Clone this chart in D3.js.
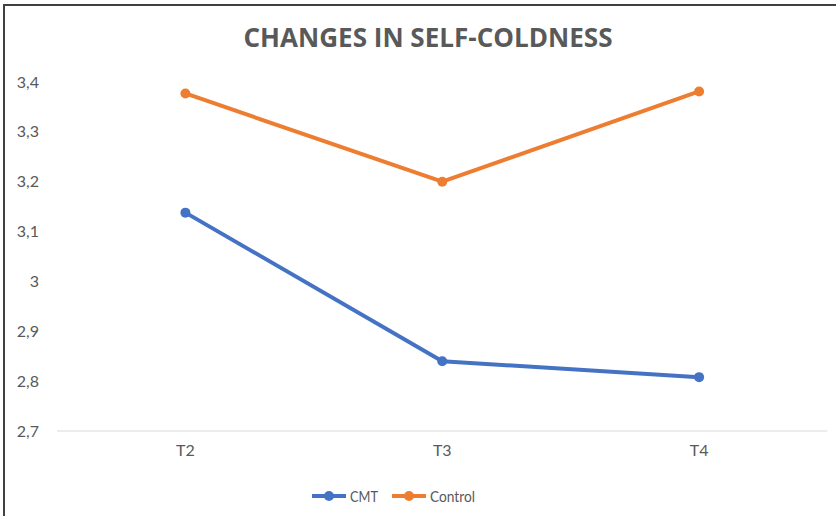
<!DOCTYPE html>
<html><head><meta charset="utf-8">
<script src="https://cdn.jsdelivr.net/npm/d3@7"></script>
<style>body{margin:0;background:#fff}svg{display:block}</style>
</head><body>
<script>
const categories = ["T2", "T3", "T4"];
const cmtValues = [3.138, 2.840, 2.808];
const controlValues = [3.377, 3.200, 3.381];
const yTicks = [2.7, 2.8, 2.9, 3.0, 3.1, 3.2, 3.3, 3.4];
const seriesNames = ["CMT", "Control"];
const seriesColors = ["#4472C4", "#ED7D31"];

const W = 836, H = 516;
const svg = d3.select("body").append("svg").attr("width", W).attr("height", H);
const font = "Lato,'Open Sans',Arial,sans-serif";
const titleFont = "'Open Sans',Lato,Arial,sans-serif";

// chart area frame (partially visible)
svg.append("rect").attr("x", 4).attr("y", 5).attr("width", W + 20).attr("height", H + 20)
  .attr("fill", "#fff").attr("stroke", "#404040").attr("stroke-width", 2);

const x = d3.scaleBand().domain(categories).range([57, 827.5]);
const y = d3.scaleLinear().domain([2.7, 3.4]).range([431, 82]);

// baseline
svg.append("line").attr("x1", 57).attr("x2", 827.5).attr("y1", y(2.7)).attr("y2", y(2.7))
  .attr("stroke", "#d9d9d9").attr("stroke-width", 1);

// y axis
const fmt = v => (Math.round(v * 10) / 10).toString().replace(".", ",");
const yAxis = d3.axisLeft(y).tickValues(yTicks).tickFormat(fmt).tickSize(0).tickPadding(0);
const yg = svg.append("g").attr("transform", "translate(39,0)").call(yAxis);
yg.select(".domain").remove();
yg.selectAll("text").attr("fill", "#595959").style("font-family", font).style("font-size", "16px");

// x axis
const xAxis = d3.axisBottom(x).tickSize(0).tickPadding(0);
const xg = svg.append("g").attr("transform", "translate(0,445)").call(xAxis);
xg.select(".domain").remove();
xg.selectAll("text").attr("fill", "#595959").style("font-family", font).style("font-size", "16px");

// title
svg.append("text").attr("x", 428).attr("y", 47).attr("text-anchor", "middle")
  .attr("fill", "#595959").style("font-family", titleFont).style("font-weight", "bold")
  .style("font-size", "27px").attr("textLength", 369).attr("lengthAdjust", "spacingAndGlyphs")
  .text("CHANGES IN SELF-COLDNESS");

// series
const series = [cmtValues, controlValues];
const line = d3.line().x((d, i) => x(categories[i]) + x.bandwidth() / 2).y(d => y(d));
series.forEach((vals, si) => {
  svg.append("path").datum(vals).attr("d", line).attr("fill", "none")
    .attr("stroke", seriesColors[si]).attr("stroke-width", 4).attr("stroke-linejoin", "round");
  svg.selectAll(null).data(vals).enter().append("circle")
    .attr("cx", (d, i) => x(categories[i]) + x.bandwidth() / 2).attr("cy", d => y(d))
    .attr("r", 5).attr("fill", seriesColors[si]);
});

// legend
const legendX = [312, 392];
const legendW = [28, 45];
seriesNames.forEach((name, i) => {
  const g = svg.append("g").attr("transform", `translate(${legendX[i]},496)`);
  g.append("line").attr("x1", 0).attr("x2", 34).attr("stroke", seriesColors[i]).attr("stroke-width", 4);
  g.append("circle").attr("cx", 17).attr("r", 5).attr("fill", seriesColors[i]);
  g.append("text").attr("x", 38).attr("y", 6).attr("fill", "#595959")
    .style("font-family", font).style("font-size", "16px")
    .attr("textLength", legendW[i]).attr("lengthAdjust", "spacingAndGlyphs").text(name);
});
</script>
</body></html>
